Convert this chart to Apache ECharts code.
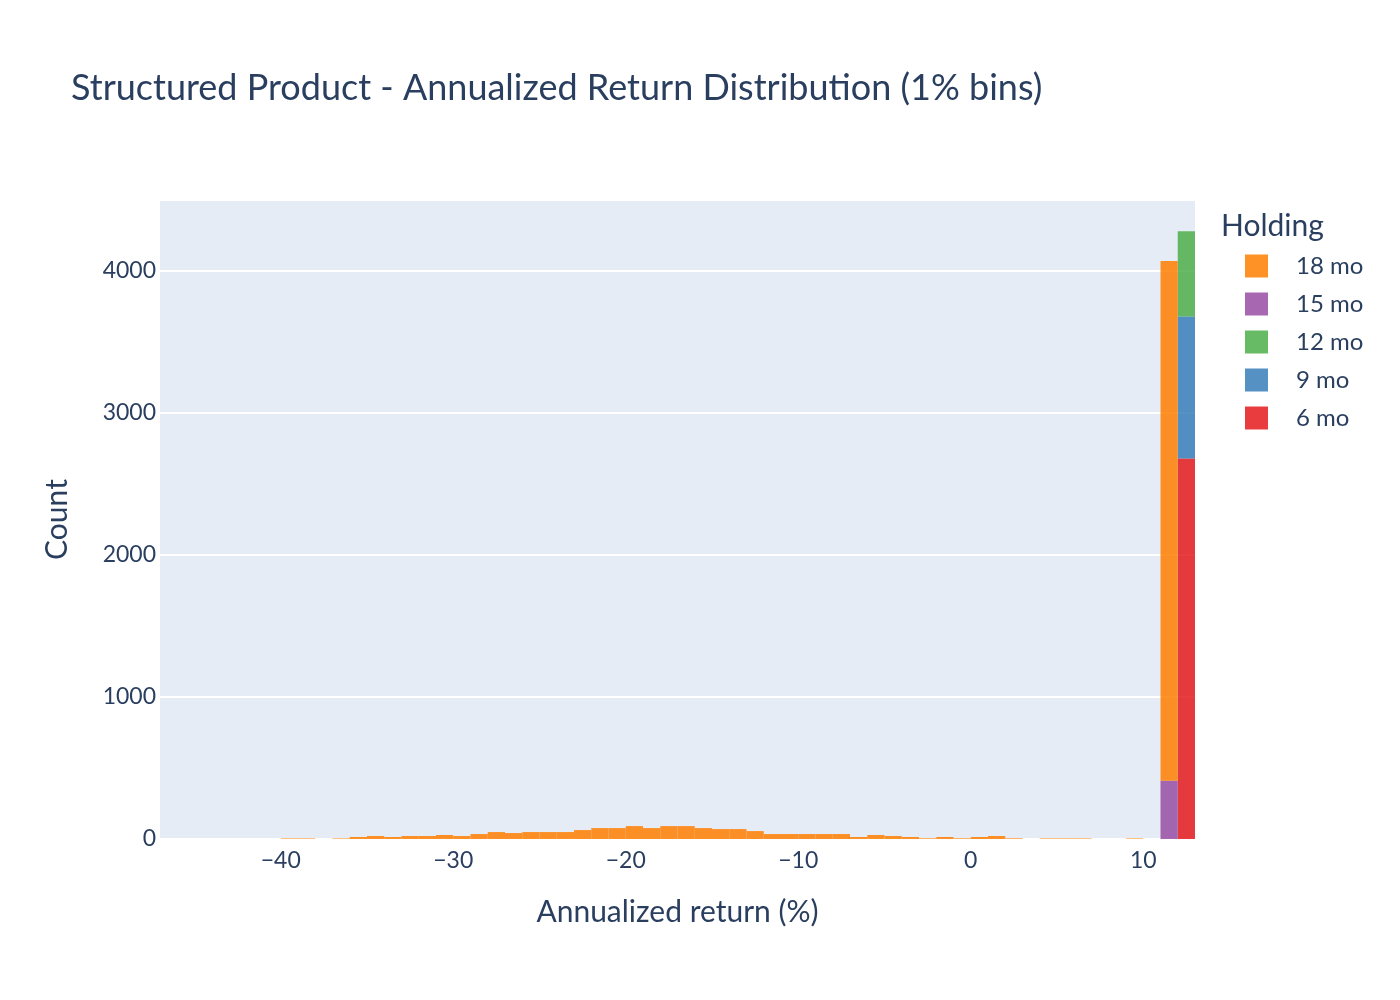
<!DOCTYPE html>
<html>
<head>
<meta charset="utf-8">
<script src="https://cdn.jsdelivr.net/npm/echarts@6/dist/echarts.min.js"></script>
<style>
  html, body { margin: 0; padding: 0; background: #fff; }
  #chart { width: 1400px; height: 1000px; }
</style>
</head>
<body>
<div id="chart"></div>
<script>
// 1% bins, each bin given by its left edge
var bins18 = [-40, -39, -38, -37, -36, -35, -34, -33, -32, -31, -30, -29, -28, -27, -26, -25, -24, -23, -22, -21,
              -20, -19, -18, -17, -16, -15, -14, -13, -12, -11, -10, -9, -8, -7, -6, -5, -4, -3, -2, -1,
              0, 1, 2, 3, 4, 5, 6, 7, 8, 9, 10, 11];
var counts18 = [4, 4, 0, 4, 14, 21, 14, 21, 21, 28, 21, 35, 49, 42, 49, 49, 49, 63, 77, 77,
                91, 77, 91, 91, 77, 70, 70, 56, 35, 35, 35, 35, 35, 14, 28, 21, 14, 5, 14, 5,
                14, 21, 5, 0, 4, 4, 4, 0, 0, 4, 0, 3660];
var bins15 = [11];
var counts15 = [410];
var bins12 = [12];
var counts12 = [600];
var bins9 = [12];
var counts9 = [1000];
var bins6 = [12];
var counts6 = [2680];

var yTicks = [0, 1000, 2000, 3000, 4000];
var xTicks = [-40, -30, -20, -10, 0, 10];

var holdings = [
  { name: '6 mo', bins: bins6, counts: counts6, color: '#E41A1C' },
  { name: '9 mo', bins: bins9, counts: counts9, color: '#377EB8' },
  { name: '12 mo', bins: bins12, counts: counts12, color: '#4DAF4A' },
  { name: '15 mo', bins: bins15, counts: counts15, color: '#984EA3' },
  { name: '18 mo', bins: bins18, counts: counts18, color: '#FF7F00' }
];

var FONT = '"Source Sans Pro", Lato, "Noto Sans", sans-serif';
var TXT = '#2a3f5f';

// stacked histogram: base of each bar = sum of previous traces in same bin
var stackTop = {};
var series = holdings.map(function (h) {
  var data = [];
  for (var i = 0; i < h.bins.length; i++) {
    var b = h.bins[i];
    var base = stackTop[b] || 0;
    var top = base + h.counts[i];
    stackTop[b] = top;
    if (h.counts[i] > 0) data.push([b, b + 1, base, top]);
  }
  return {
    name: h.name,
    type: 'custom',
    itemStyle: { color: h.color, opacity: 0.85 },
    encode: { x: [0, 1], y: [2, 3] },
    data: data,
    renderItem: function (params, api) {
      var p0 = api.coord([api.value(0), api.value(2)]);
      var p1 = api.coord([api.value(1), api.value(3)]);
      return {
        type: 'rect',
        shape: { x: p0[0], y: p1[1], width: p1[0] - p0[0], height: p0[1] - p1[1] },
        style: api.style({ stroke: null })
      };
    }
  };
});

var myChart = echarts.init(document.getElementById('chart'));
var option = {
  backgroundColor: '#fff',
  animation: false,
  textStyle: { fontFamily: FONT, color: TXT },
  title: [
    {
      text: 'Structured Product - Annualized Return Distribution (1% bins)',
      left: 66, top: 65,
      textStyle: { fontFamily: FONT, fontSize: 36, fontWeight: 'normal', color: TXT }
    },
    {
      text: 'Holding',
      left: 1216, top: 206,
      textStyle: { fontFamily: FONT, fontSize: 30, fontWeight: 'normal', color: TXT }
    }
  ],
  legend: {
    orient: 'vertical',
    left: 1245, top: 254, padding: 0,
    itemWidth: 23, itemHeight: 23, itemGap: 14,
    icon: 'rect',
    data: ['18 mo', '15 mo', '12 mo', '9 mo', '6 mo'],
    textStyle: { fontFamily: FONT, fontSize: 24, color: TXT, padding: [0, 0, 0, 23] }
  },
  grid: {
    left: 160, right: 205, top: 200, bottom: 161,
    show: true, backgroundColor: '#E5ECF6', borderWidth: 0
  },
  xAxis: {
    type: 'value',
    min: -47, max: 13,
    name: 'Annualized return (%)',
    nameLocation: 'middle', nameGap: 58,
    nameTextStyle: { fontFamily: FONT, fontSize: 30, color: TXT },
    axisLine: { show: false }, axisTick: { show: false },
    splitLine: { show: false },
    axisLabel: {
      fontFamily: FONT, fontSize: 23, color: TXT, margin: 10,
      customValues: xTicks,
      formatter: function (v) { return v < 0 ? '\u2212' + (-v) : String(v); }
    }
  },
  yAxis: {
    type: 'value',
    min: 0, max: 4500,
    name: 'Count',
    nameLocation: 'middle', nameGap: 88,
    nameTextStyle: { fontFamily: FONT, fontSize: 30, color: TXT },
    axisLine: { show: false }, axisTick: { show: false },
    splitLine: { show: true, lineStyle: { color: '#fff', width: 2 } },
    axisLabel: {
      fontFamily: FONT, fontSize: 23, color: TXT, margin: 4,
      customValues: yTicks,
      formatter: function (v) { return String(v); }
    }
  },
  series: series
};
myChart.setOption(option);
</script>
</body>
</html>
